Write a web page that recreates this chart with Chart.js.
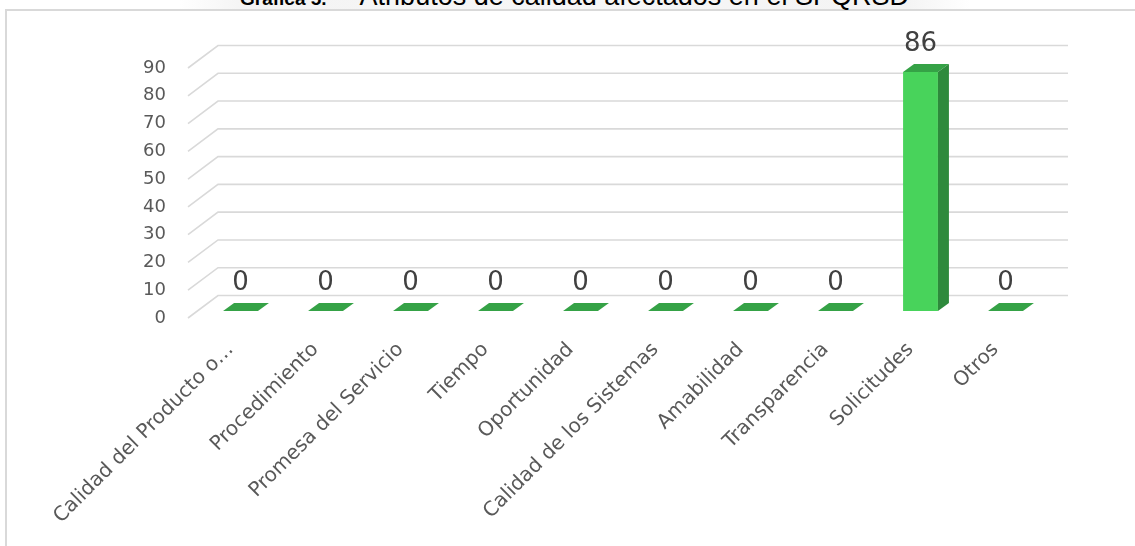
<!DOCTYPE html>
<html>
<head>
<meta charset="utf-8">
<script src="https://cdn.jsdelivr.net/npm/chart.js@4/dist/chart.umd.min.js"></script>
<style>
  html, body { margin: 0; padding: 0; background: #fff; overflow: hidden; }
  #wrap { position: relative; width: 1135px; height: 546px; overflow: hidden; }
  #glow { position: absolute; left: 180px; top: 0; width: 790px; height: 9px;
          background: linear-gradient(to right, rgba(0,0,0,0), #f4f4f4 8%, #f6f6f6 50%, #f4f4f4 92%, rgba(0,0,0,0)); }
  #frame { position: absolute; left: 5px; top: 9px; width: 1200px; height: 600px;
           border: 2px solid #d9d9d9; box-sizing: border-box; }
  #title { position: absolute; left: 240px; top: -19px; white-space: nowrap;
           line-height: 27px; color: #000; }
  #title b { font: bold 19px "Liberation Sans", Arial, sans-serif; }
  #title span { font: 27px "Liberation Sans", Arial, sans-serif; margin-left: 33px; }
  canvas { position: absolute; left: 0; top: 0; }
</style>
</head>
<body>
<div id="wrap">
  <div id="glow"></div>
  <div id="frame"></div>
  <div id="title"><b>Gráfica 5.</b><span>Atributos de calidad afectados en el SPQRSD</span></div>
  <canvas id="chart" width="1135" height="546"></canvas>
</div>
<script>
// ================= DATA =================
const categories = [
  "Calidad del Producto o…", "Procedimiento", "Promesa del Servicio", "Tiempo",
  "Oportunidad", "Calidad de los Sistemas", "Amabilidad", "Transparencia",
  "Solicitudes", "Otros"
];
const counts = [0, 0, 0, 0, 0, 0, 0, 0, 86, 0];
const yTicks = [0, 10, 20, 30, 40, 50, 60, 70, 80, 90];

// ================= 3D LOOK =================
const WALL_DX = 30, WALL_DY = -22.5;  // back wall offset from front floor edge
const BAR_X = 10, BAR_Y = -7;         // where the bar fronts sit
const BAR_DX = 11, BAR_DY = -8;       // bar depth

const fake3d = {
  id: "fake3d",
  beforeDatasetsDraw(chart) {
    const { ctx, chartArea, scales } = chart;
    ctx.save();
    ctx.strokeStyle = "#d9d9d9";
    ctx.lineWidth = 1.6;
    yTicks.forEach(v => {
      const y = scales.y.getPixelForValue(v);
      ctx.beginPath();
      ctx.moveTo(chartArea.left, y);
      ctx.lineTo(chartArea.left + WALL_DX, y + WALL_DY);
      ctx.lineTo(chartArea.right + WALL_DX, y + WALL_DY);
      ctx.stroke();
    });
    ctx.restore();

    // bars get drawn a bit back and up
    ctx.save();
    ctx.translate(BAR_X, BAR_Y);
  },
  afterDatasetsDraw(chart) {
    const { ctx } = chart;
    const meta = chart.getDatasetMeta(0);
    meta.data.forEach((bar, i) => {
      const { x, y, base, width } = bar.getProps(["x", "y", "base", "width"], true);
      const l = x - width / 2, r = x + width / 2;

      // top face
      ctx.fillStyle = "#35a246";
      ctx.beginPath();
      ctx.moveTo(l, y);
      ctx.lineTo(r, y);
      ctx.lineTo(r + BAR_DX, y + BAR_DY);
      ctx.lineTo(l + BAR_DX, y + BAR_DY);
      ctx.closePath();
      ctx.fill();

      // right side
      if (counts[i] > 0) {
        ctx.fillStyle = "#2e8a3c";
        ctx.beginPath();
        ctx.moveTo(r, y);
        ctx.lineTo(r + BAR_DX, y + BAR_DY);
        ctx.lineTo(r + BAR_DX, base + BAR_DY);
        ctx.lineTo(r, base);
        ctx.closePath();
        ctx.fill();
      }

      // value label
      ctx.fillStyle = "#404040";
      ctx.font = '26px "DejaVu Sans"';
      ctx.textAlign = "center";
      ctx.textBaseline = "middle";
      ctx.fillText(String(counts[i]), x, y - 28);
    });
    ctx.restore();
  }
};

new Chart(document.getElementById("chart"), {
  type: "bar",
  data: {
    labels: categories,
    datasets: [{
      data: counts,
      backgroundColor: "#48d35b",
      borderWidth: 0,
      categoryPercentage: 1,
      barPercentage: 0.41,
      clip: false
    }]
  },
  options: {
    responsive: false,
    animation: false,
    devicePixelRatio: 1,
    layout: { padding: { top: 68, right: 97, left: 0, bottom: 0 } },
    plugins: { legend: { display: false }, tooltip: { enabled: false } },
    scales: {
      y: {
        min: 0,
        max: 90,
        afterFit: s => { s.width = 188; },
        afterBuildTicks: s => { s.ticks = yTicks.map(v => ({ value: v })); },
        grid: { display: false, drawTicks: false },
        border: { display: false },
        ticks: { padding: 22, color: "#595959", font: { family: "DejaVu Sans", size: 18 } }
      },
      x: {
        afterFit: s => { s.height = 228; },
        grid: { display: false, drawTicks: false },
        border: { display: false },
        ticks: {
          autoSkip: false,
          minRotation: 45,
          maxRotation: 45,
          padding: 20,
          color: "#595959",
          font: { family: "DejaVu Sans", size: 20 }
        }
      }
    }
  },
  plugins: [fake3d]
});
</script>
</body>
</html>
